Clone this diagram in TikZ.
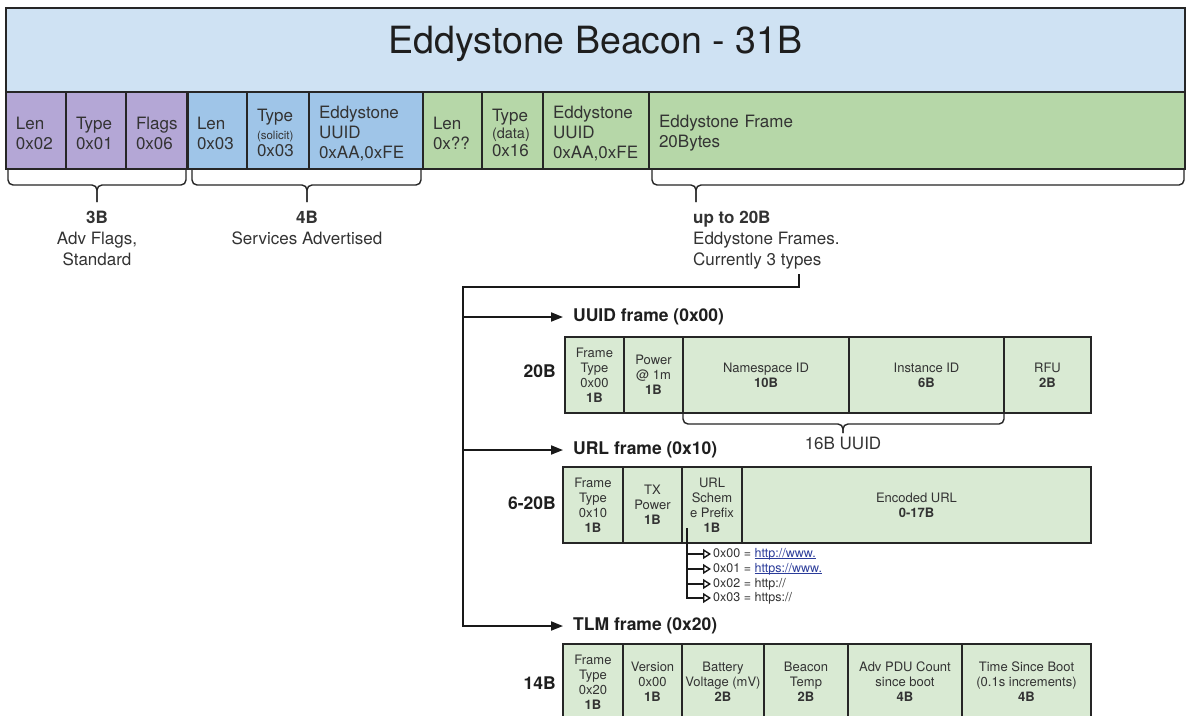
\documentclass[tikz,border=0pt]{standalone}
\usepackage{fontspec}
\setmainfont{TeX Gyre Heros}
\usetikzlibrary{arrows.meta}
\definecolor{titlebg}{HTML}{CFE2F3}
\definecolor{purp}{HTML}{B4A7D6}
\definecolor{blu}{HTML}{9FC5E8}
\definecolor{grn}{HTML}{B6D7A8}
\definecolor{lgrn}{HTML}{D9EAD3}
\definecolor{linec}{HTML}{262626}
\definecolor{textc}{HTML}{333333}
\definecolor{darkt}{HTML}{1E1E1E}
\definecolor{linkc}{HTML}{2B3C9A}
\newcommand{\fsz}[2]{\fontsize{#1}{#2}\selectfont}
\newcommand{\lnk}[1]{{\color{linkc}\setbox0\hbox{#1}\rlap{\rule[-1.8pt]{\wd0}{0.7pt}}\box0}}
\tikzset{
  cellbase/.style={draw=linec, line width=1.6pt, inner sep=0pt, text=textc},
  topcell/.style={cellbase, font=\fsz{17}{20}, align=left, inner xsep=10pt},
  lowcell/.style={cellbase, fill=lgrn, font=\fsz{13}{15}, align=center},
  titlebox/.style={draw=linec, line width=1.8pt, fill=titlebg, text=darkt, font=\fsz{37.5}{42}, inner sep=0pt, text height=20pt, text depth=14pt},
  bracest/.style={draw=linec, line width=1.4pt, rounded corners=5pt},
  note/.style={text=textc, font=\fsz{17}{21}, align=center, inner sep=0pt},
  sizelbl/.style={text=darkt, font=\bfseries\fsz{17.5}{21}, inner sep=0pt},
  framelbl/.style={text=darkt, font=\bfseries\fsz{17.5}{21}, inner sep=0pt, anchor=west},
  conn/.style={draw=black!90, line width=1.8pt},
  connarrow/.style={conn, -{Triangle[length=12pt,width=9pt]}, shorten >=10pt},
  plbl/.style={text=textc, font=\fsz{12.5}{15}, inner sep=0pt, anchor=west},
  parrow/.style={draw=black!90, line width=1.4pt, -{Triangle[open,length=8pt,width=10pt]}, shorten >=2pt},
}
\newcommand{\tcell}[5]{% name, x1, x2, fill, text
  \pgfmathsetmacro\cw{#3-#2}\pgfmathsetmacro\tw{#3-#2-20}%
  \node[topcell, fill=#4, minimum width=\cw pt, minimum height=77pt, text width=\tw pt] (#1) at ({(#2+#3)/2},130.5) {\rule{0pt}{18pt}#5};}
\newcommand{\lcell}[6]{% name, x1, x2, y1, y2, text
  \pgfmathsetmacro\cw{#3-#2}\pgfmathsetmacro\ch{#5-#4}%
  \node[lowcell, minimum width=\cw pt, minimum height=\ch pt] (#1) at ({(#2+#3)/2},{(#4+#5)/2}) {#6};}
\newcommand{\curly}[6]{% x1, xc, x2, ytop, yh, ybot
  \draw[bracest] (#1,#4) -- (#1,#5) -- (#2,#5) -- (#2,#6);
  \draw[bracest] (#3,#4) -- (#3,#5) -- (#2,#5) -- (#2,#6);}
\begin{document}
\begin{tikzpicture}[x=1pt,y=-1pt]
\useasboundingbox[fill=white] (0,0) rectangle (1186,715);

% title
\node[titlebox, minimum width=1179pt, minimum height=84pt] (title) at (595.5,50) {Eddystone Beacon - 31B};

% top row
\tcell{p1}{6}{66}{purp}{Len\\0x02}
\tcell{p2}{66}{126}{purp}{Type\\0x01}
\tcell{p3}{126}{187}{purp}{Flags\\0x06}
\tcell{b1}{187}{247}{blu}{Len\\0x03}
\tcell{b2}{247}{309}{blu}{Type\\[-2.5pt]{\fsz{11.5}{14}(solicit)}\\[-2.5pt]0x03}
\tcell{b3}{309}{423}{blu}{Eddystone\\UUID\\0xAA,0xFE}
\tcell{g1}{423}{482}{grn}{Len\\0x??}
\tcell{g2}{482}{543}{grn}{Type\\[-3pt]{\fsz{14.5}{17}(data)}\\[-2pt]0x16}
\tcell{g3}{543}{649}{grn}{Eddystone\\UUID\\0xAA,0xFE}
\tcell{g4}{649}{1185}{grn}{Eddystone Frame\\20Bytes}
\draw[linec, line width=2.6pt] (p3.north east) -- (p3.south east);

% braces
\curly{8}{97}{186}{170}{185}{202}
\curly{192}{307}{421}{170}{185}{202}
\curly{652}{696}{1184}{170}{185}{202}

\node[note, anchor=north] (n1) at (97,211) {\textbf{3B}\\Adv Flags,\\Standard};
\node[note, anchor=north] (n2) at (307,211) {\textbf{4B}\\Services Advertised};
\node[note, anchor=north west, align=left] (n3) at (693,211) {\textbf{up to 20B}\\Eddystone Frames.\\Currently 3 types};

% frame labels
\node[framelbl] (uuidlbl) at (573,317) {UUID frame (0x00)};
\node[framelbl] (urllbl) at (573,450) {URL frame (0x10)};
\node[framelbl] (tlmlbl) at (573,626) {TLM frame (0x20)};

% connectors
\coordinate (c0) at (799,274);
\coordinate (fork) at (463,287);
\draw[connarrow] (c0) -- (c0 |- fork) -- (fork) -- (fork |- tlmlbl.west) -- (tlmlbl.west);
\draw[connarrow] (fork |- uuidlbl.west) -- (uuidlbl.west);
\draw[connarrow] (fork |- urllbl.west) -- (urllbl.west);

% UUID frame
\node[sizelbl, anchor=east] (s20) at (556,371) {20B};
\lcell{u1}{565}{624}{337}{413}{Frame\\Type\\0x00\\\textbf{1B}}
\lcell{u2}{624}{683}{337}{413}{Power\\@ 1m\\\textbf{1B}}
\lcell{u3}{683}{849}{337}{413}{Namespace ID\\\textbf{10B}}
\lcell{u4}{849}{1004}{337}{413}{Instance ID\\\textbf{6B}}
\lcell{u5}{1004}{1091}{337}{413}{RFU\\\textbf{2B}}
\curly{683}{843}{1004}{413}{424}{433}
\node[note] (uuid16) at (843,443) {16B UUID};

% URL frame
\node[sizelbl, anchor=east] (s620) at (556,503) {6-20B};
\lcell{r1}{563}{623}{467}{543}{Frame\\Type\\0x10\\\textbf{1B}}
\lcell{r2}{623}{682}{467}{543}{TX\\Power\\\textbf{1B}}
\lcell{r3}{682}{742}{467}{543}{URL\\Schem\\e Prefix\\\textbf{1B}}
\lcell{r4}{742}{1091}{467}{543}{Encoded URL\\\textbf{0-17B}}

% prefix list
\coordinate (psrc) at (687,528);
\node[plbl] (q0) at (713,554) {0x00 = \lnk{http://www.}};
\node[plbl] (q1) at (713,569) {0x01 = \lnk{https://www.}};
\node[plbl] (q2) at (713,584) {0x02 = http://};
\node[plbl] (q3) at (713,598) {0x03 = https://};
\draw[parrow] (psrc) |- (q3.west);
\draw[parrow] (psrc |- q0.west) -- (q0.west);
\draw[parrow] (psrc |- q1.west) -- (q1.west);
\draw[parrow] (psrc |- q2.west) -- (q2.west);

% TLM frame
\node[sizelbl, anchor=east] (s14) at (556,683) {14B};
\lcell{t1}{563}{623}{644}{720}{Frame\\Type\\0x20\\\textbf{1B}}
\lcell{t2}{623}{682}{644}{720}{Version\\0x00\\\textbf{1B}}
\lcell{t3}{682}{764}{644}{720}{Battery\\Voltage (mV)\\\textbf{2B}}
\lcell{t4}{764}{848}{644}{720}{Beacon\\Temp\\\textbf{2B}}
\lcell{t5}{848}{962}{644}{720}{Adv PDU Count\\since boot\\\textbf{4B}}
\lcell{t6}{962}{1091}{644}{720}{Time Since Boot\\(0.1s increments)\\\textbf{4B}}
\end{tikzpicture}
\end{document}
